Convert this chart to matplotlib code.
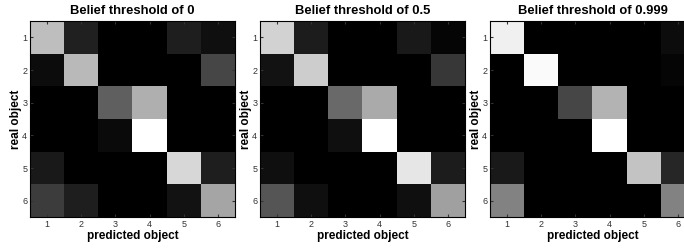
import matplotlib.pyplot as plt
import numpy as np

plt.rcParams['font.family'] = ['Liberation Sans', 'DejaVu Sans']

labels = [1, 2, 3, 4, 5, 6]
titles = ["Belief threshold of 0", "Belief threshold of 0.5", "Belief threshold of 0.999"]

# gray levels (0 = black, 255 = white)
thr_0 = [
    [190, 32, 0, 0, 30, 15],
    [12, 185, 0, 0, 0, 70],
    [0, 0, 95, 175, 0, 0],
    [0, 0, 10, 255, 0, 0],
    [25, 0, 0, 0, 215, 30],
    [60, 30, 0, 0, 18, 165],
]
thr_05 = [
    [210, 28, 0, 0, 25, 5],
    [18, 205, 0, 0, 0, 55],
    [0, 0, 105, 170, 0, 0],
    [0, 0, 15, 255, 0, 0],
    [15, 0, 0, 0, 230, 28],
    [85, 15, 0, 0, 15, 160],
]
thr_0999 = [
    [240, 0, 0, 0, 0, 12],
    [0, 250, 0, 0, 0, 5],
    [0, 0, 70, 180, 0, 0],
    [0, 0, 0, 255, 0, 0],
    [25, 0, 0, 0, 195, 38],
    [130, 0, 0, 0, 0, 130],
]
mats = [thr_0, thr_05, thr_0999]

W, H = 684, 248
fig = plt.figure(figsize=(W / 100, H / 100), dpi=100)
lefts = [30, 260, 490]
for left, m, t in zip(lefts, mats, titles):
    ax = fig.add_axes([left / W, 1 - 217 / H, 205 / W, 196 / H])
    ax.imshow(np.array(m), cmap='gray', vmin=0, vmax=255, aspect='auto',
              interpolation='nearest')
    ax.set_xticks(range(6))
    ax.set_xticklabels(labels)
    ax.set_yticks(range(6))
    ax.set_yticklabels(labels)
    ax.tick_params(direction='in', length=2, labelsize=6.5, colors='#333333',
                   top=True, right=True, pad=2)
    ax.set_title(t, fontsize=9.4, fontweight='bold', pad=5)
    ax.set_xlabel("predicted object", fontsize=8.5, fontweight='bold', labelpad=1)
    ax.set_ylabel("real object", fontsize=8.5, fontweight='bold', labelpad=0)

fig.savefig("out.png", dpi=100)
